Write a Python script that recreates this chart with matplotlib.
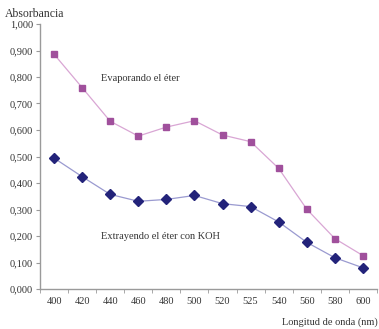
import numpy as np
import matplotlib.pyplot as plt

plt.rcParams['font.family'] = ['Liberation Serif', 'DejaVu Serif']

# longitudes de onda (categorias) y absorbancias
wavelengths = ['400', '420', '440', '460', '480', '500', '520', '525', '540', '560', '580', '600']
evaporando = [0.886, 0.760, 0.633, 0.577, 0.611, 0.635, 0.581, 0.556, 0.455, 0.301, 0.190, 0.126]
extrayendo = [0.494, 0.424, 0.357, 0.331, 0.338, 0.353, 0.322, 0.311, 0.253, 0.176, 0.118, 0.080]

text_color = '#333333'
axis_color = '#9a9a9a'

fig = plt.figure(figsize=(3.79, 3.29), dpi=100)
ax = fig.add_axes([40/379, 40/329, 337/379, 265/329])

x = np.arange(len(wavelengths))
ax.plot(x, evaporando, color='#d9a6d4', lw=0.9, marker='s', ms=5,
        mfc='#a0509c', mec='#a0509c', zorder=3)
ax.plot(x, extrayendo, color='#9a9ad0', lw=0.9, marker='D', ms=5,
        mfc='#23237a', mec='#23237a', zorder=3)

ax.set_xlim(-0.5, len(wavelengths) - 0.5)
ax.set_ylim(0, 1.0)

ax.set_yticks(np.arange(0, 1.01, 0.1))
ax.set_yticklabels([f'{v:.3f}'.replace('.', ',') for v in np.arange(0, 1.01, 0.1)])
ax.set_xticks(x)
ax.set_xticklabels(wavelengths)
ax.set_xticks(np.arange(-0.5, len(wavelengths), 1), minor=True)

ax.tick_params(axis='x', which='major', length=0, pad=6, labelsize=7.5, labelcolor=text_color)
ax.tick_params(axis='x', which='minor', length=3, color=axis_color, direction='out')
ax.tick_params(axis='y', length=3, color=axis_color, pad=2, labelsize=7.5, labelcolor=text_color)

for s in ['top', 'right']:
    ax.spines[s].set_visible(False)
for s in ['left', 'bottom']:
    ax.spines[s].set_color(axis_color)
    ax.spines[s].set_linewidth(1.0)

ax.text(1.68, 0.796, 'Evaporando el éter', fontsize=7.5, color=text_color, ha='left', va='center')
ax.text(1.68, 0.197, 'Extrayendo el éter con KOH', fontsize=7.5, color=text_color, ha='left', va='center')

fig.text(5/379, 1 - 14/329, 'Absorbancia', fontsize=8.5, color=text_color, ha='left', va='center')
fig.text(378/379, 1 - 322/329, 'Longitud de onda (nm)', fontsize=7.5, color=text_color, ha='right', va='center')

fig.savefig('out.png', dpi=100)
